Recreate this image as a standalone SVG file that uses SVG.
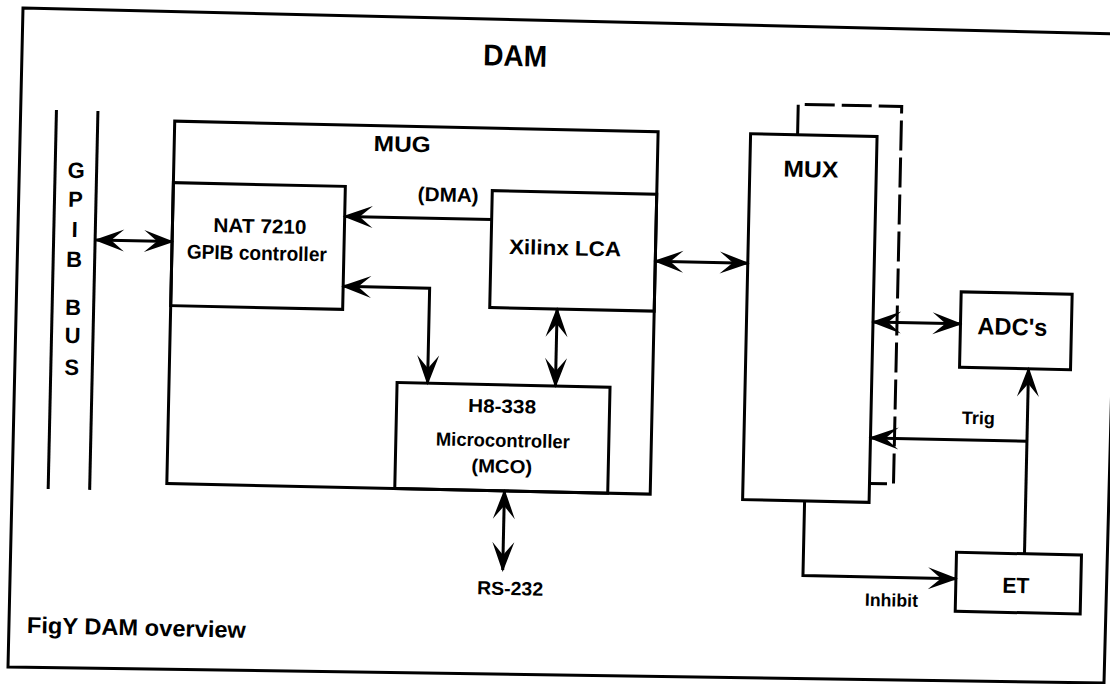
<svg xmlns="http://www.w3.org/2000/svg" width="1110" height="684" viewBox="0 0 1110 684">
<defs>
<style>
.b{fill:none;stroke:#000;stroke-width:3}
.c{fill:none;stroke:#000;stroke-width:3}
.d{fill:none;stroke:#000;stroke-width:3;stroke-dasharray:30 7}
.t{font-family:"Liberation Sans",Arial,sans-serif;font-weight:bold;fill:#000;text-anchor:middle}
.ab{marker-start:url(#ah);marker-end:url(#ah)}
.ae{marker-end:url(#ah)}
</style>
<marker id="ah" viewBox="-30 -12 33 24" refX="0" refY="0" markerWidth="33" markerHeight="24" markerUnits="userSpaceOnUse" orient="auto-start-reverse">
<path d="M2,0 L-28,-11 L-15,0 L-28,11 Z" fill="#000"/>
</marker>
</defs>
<rect width="1110" height="684" fill="#fff"/>
<g id="dam">
<polygon points="23,8 1121,34 1104,683 8,667" class="b"/>
<text class="t" x="509" y="67" font-size="30" textLength="64" lengthAdjust="spacingAndGlyphs" transform="rotate(1.25 555 342)">DAM</text>
</g>
<g transform="rotate(1.25 555 342)">
<g id="gpib-bus">
<line x1="51.5" y1="121" x2="51.5" y2="500" class="b"/>
<line x1="93" y1="121" x2="93" y2="500" class="b"/>
<text class="t" font-size="22" x="72.5" y="188.5">G</text>
<text class="t" font-size="22" x="72.5" y="217.5">P</text>
<text class="t" font-size="22" x="72.5" y="247.5">I</text>
<text class="t" font-size="22" x="72.5" y="277.5">B</text>
<text class="t" font-size="22" x="72.5" y="325.5">B</text>
<text class="t" font-size="22" x="72.5" y="353.5">U</text>
<text class="t" font-size="22" x="72.5" y="385.5">S</text>
</g>
<g id="mug">
<rect x="170" y="129.5" width="483.5" height="362.5" class="b"/>
<text class="t" x="398" y="155" font-size="22" textLength="57" lengthAdjust="spacingAndGlyphs">MUG</text>
</g>
<g id="nat7210">
<rect x="170" y="191" width="172" height="123" class="b"/>
<text class="t" x="257.5" y="239.5" font-size="20" textLength="93" lengthAdjust="spacingAndGlyphs">NAT 7210</text>
<text class="t" x="255" y="266.5" font-size="20" textLength="140" lengthAdjust="spacingAndGlyphs">GPIB controller</text>
</g>
<g id="xilinx">
<rect x="489" y="192" width="164.5" height="117" class="b"/>
<text class="t" x="563" y="255" font-size="21" textLength="112" lengthAdjust="spacingAndGlyphs">Xilinx LCA</text>
</g>
<g id="mco">
<rect x="398" y="386" width="213" height="106" class="b"/>
<text class="t" x="503.5" y="414" font-size="19" textLength="68" lengthAdjust="spacingAndGlyphs">H8-338</text>
<text class="t" x="505" y="448" font-size="19" textLength="134" lengthAdjust="spacingAndGlyphs">Microcontroller</text>
<text class="t" x="504.5" y="474" font-size="19" textLength="61" lengthAdjust="spacingAndGlyphs">(MCO)</text>
</g>
<g id="mux">
<rect x="746" y="129.5" width="126.5" height="366" class="b"/>
<path d="M793,129.5 V99 H896.5 V476.5 H872.5" class="d"/>
<text class="t" x="807" y="171.5" font-size="23" textLength="55" lengthAdjust="spacingAndGlyphs">MUX</text>
</g>
<g id="adcs">
<rect x="960" y="283" width="111" height="75.5" class="b"/>
<text class="t" x="1012" y="325" font-size="24" textLength="70" lengthAdjust="spacingAndGlyphs">ADC's</text>
</g>
<g id="et">
<rect x="961" y="543.5" width="125" height="59" class="b"/>
<text class="t" x="1021" y="583" font-size="22" textLength="27" lengthAdjust="spacingAndGlyphs">ET</text>
</g>
<g id="connectors">
<path d="M94,250 H170" class="c ab"/>
<path d="M489,221 H342" class="c ae"/>
<path d="M342,291 H428.5 V386" class="c ab"/>
<path d="M556.4,309 V386" class="c ab"/>
<path d="M653.5,259 H746" class="c ab"/>
<path d="M872.5,315 H960" class="c ab"/>
<path d="M1029,543.5 V358.5" class="c ae"/>
<path d="M1029,431 H872.5" class="c ae"/>
<path d="M808,495.5 V570 H961" class="c ae"/>
<path d="M507.7,492 V571" class="c ab"/>
<text class="t" x="445" y="204" font-size="20" textLength="61" lengthAdjust="spacingAndGlyphs">(DMA)</text>
<text class="t" x="980" y="415" font-size="18" textLength="33" lengthAdjust="spacingAndGlyphs">Trig</text>
<text class="t" x="897" y="599" font-size="18" textLength="53" lengthAdjust="spacingAndGlyphs">Inhibit</text>
<text class="t" x="515.5" y="596" font-size="19" textLength="66" lengthAdjust="spacingAndGlyphs">RS-232</text>
</g>
<text class="t" x="33.3" y="644.5" font-size="23" style="text-anchor:start" textLength="219" lengthAdjust="spacingAndGlyphs">FigY DAM overview</text>
</g>
</svg>
